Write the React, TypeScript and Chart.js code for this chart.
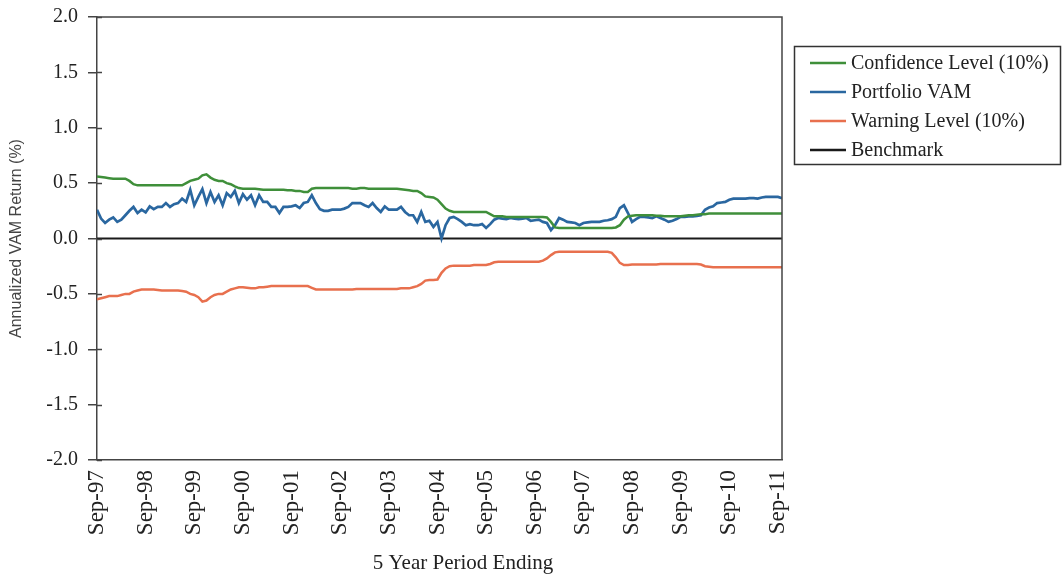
import React, { useEffect, useRef } from "react";
import { Chart, registerables } from "chart.js";

Chart.register(...registerables);

// Tick labels on the x axis (one every 12 months, starting at month 0 = Sep-97)
const tickLabels = [
  "Sep-97", "Sep-98", "Sep-99", "Sep-00", "Sep-01", "Sep-02", "Sep-03", "Sep-04",
  "Sep-05", "Sep-06", "Sep-07", "Sep-08", "Sep-09", "Sep-10", "Sep-11",
];
const monthsPerTick = 12;
const lastMonth = 169;
const xAxisTitle = "5 Year Period Ending";
const yAxisTitle = "Annualized VAM Return (%)";

// Monthly values, month 0 = Sep-97
const confidenceLevel = [
  0.56, 0.555, 0.55, 0.545, 0.54, 0.54, 0.54, 0.54, 0.52, 0.49,
  0.48, 0.48, 0.48, 0.48, 0.48, 0.48, 0.48, 0.48, 0.48, 0.48,
  0.48, 0.48, 0.50, 0.52, 0.53, 0.54, 0.57, 0.58, 0.55, 0.53,
  0.52, 0.52, 0.50, 0.49, 0.47, 0.455, 0.45, 0.45, 0.45, 0.45,
  0.445, 0.44, 0.44, 0.44, 0.44, 0.44, 0.44, 0.435, 0.435, 0.43,
  0.43, 0.42, 0.42, 0.45, 0.455, 0.455, 0.455, 0.455, 0.455, 0.455,
  0.455, 0.455, 0.455, 0.45, 0.45, 0.455, 0.455, 0.45, 0.45, 0.45,
  0.45, 0.45, 0.45, 0.45, 0.45, 0.445, 0.44, 0.435, 0.43, 0.43,
  0.41, 0.38, 0.375, 0.37, 0.35, 0.31, 0.27, 0.25, 0.24, 0.24,
  0.24, 0.24, 0.24, 0.24, 0.24, 0.24, 0.24, 0.22, 0.20, 0.20,
  0.20, 0.195, 0.195, 0.195, 0.195, 0.195, 0.195, 0.195, 0.195, 0.195,
  0.195, 0.19, 0.15, 0.10, 0.095, 0.095, 0.095, 0.095, 0.095, 0.095,
  0.095, 0.095, 0.095, 0.095, 0.095, 0.095, 0.095, 0.095, 0.10, 0.12,
  0.17, 0.20, 0.205, 0.21, 0.21, 0.21, 0.21, 0.21, 0.205, 0.205,
  0.20, 0.20, 0.20, 0.20, 0.20, 0.205, 0.21, 0.21, 0.215, 0.22,
  0.22, 0.225, 0.225, 0.225, 0.225, 0.225, 0.225, 0.225, 0.225, 0.225,
  0.225, 0.225, 0.225, 0.225, 0.225, 0.225, 0.225, 0.225, 0.225, 0.225,
];

const portfolioVAM = [
  0.26, 0.18, 0.14, 0.17, 0.19, 0.15, 0.17, 0.21, 0.25, 0.285,
  0.23, 0.26, 0.235, 0.29, 0.265, 0.285, 0.285, 0.32, 0.285, 0.31,
  0.32, 0.36, 0.33, 0.44, 0.30, 0.375, 0.445, 0.32, 0.42, 0.33,
  0.39, 0.30, 0.41, 0.375, 0.43, 0.32, 0.40, 0.35, 0.39, 0.30,
  0.39, 0.33, 0.33, 0.285, 0.285, 0.23, 0.285, 0.285, 0.29, 0.30,
  0.275, 0.32, 0.33, 0.39, 0.32, 0.265, 0.25, 0.25, 0.26, 0.26,
  0.26, 0.27, 0.285, 0.32, 0.32, 0.32, 0.30, 0.285, 0.32, 0.275,
  0.24, 0.29, 0.26, 0.26, 0.26, 0.285, 0.24, 0.21, 0.21, 0.15,
  0.24, 0.15, 0.16, 0.105, 0.15, 0.0, 0.12, 0.185, 0.195, 0.175,
  0.15, 0.12, 0.13, 0.12, 0.12, 0.13, 0.095, 0.13, 0.17, 0.185,
  0.18, 0.175, 0.185, 0.18, 0.175, 0.18, 0.185, 0.16, 0.165, 0.17,
  0.15, 0.14, 0.075, 0.12, 0.185, 0.17, 0.15, 0.145, 0.14, 0.12,
  0.14, 0.145, 0.15, 0.15, 0.15, 0.16, 0.165, 0.175, 0.195, 0.275,
  0.30, 0.23, 0.15, 0.175, 0.195, 0.195, 0.19, 0.185, 0.20, 0.185,
  0.17, 0.15, 0.16, 0.175, 0.195, 0.195, 0.20, 0.20, 0.205, 0.21,
  0.26, 0.28, 0.29, 0.32, 0.325, 0.33, 0.35, 0.36, 0.36, 0.36,
  0.36, 0.365, 0.365, 0.36, 0.37, 0.375, 0.375, 0.375, 0.375, 0.365,
];

const warningLevel = [
  -0.55, -0.54, -0.53, -0.52, -0.52, -0.52, -0.51, -0.50, -0.50, -0.48,
  -0.47, -0.46, -0.46, -0.46, -0.46, -0.465, -0.47, -0.47, -0.47, -0.47,
  -0.47, -0.475, -0.48, -0.50, -0.51, -0.53, -0.57, -0.56, -0.53, -0.51,
  -0.50, -0.50, -0.48, -0.46, -0.45, -0.44, -0.44, -0.445, -0.45, -0.45,
  -0.44, -0.44, -0.435, -0.43, -0.43, -0.43, -0.43, -0.43, -0.43, -0.43,
  -0.43, -0.43, -0.43, -0.445, -0.46, -0.46, -0.46, -0.46, -0.46, -0.46,
  -0.46, -0.46, -0.46, -0.46, -0.455, -0.455, -0.455, -0.455, -0.455, -0.455,
  -0.455, -0.455, -0.455, -0.455, -0.455, -0.45, -0.45, -0.45, -0.44, -0.43,
  -0.41, -0.38, -0.375, -0.375, -0.37, -0.31, -0.27, -0.25, -0.245, -0.245,
  -0.245, -0.245, -0.245, -0.24, -0.24, -0.24, -0.24, -0.23, -0.215, -0.21,
  -0.21, -0.21, -0.21, -0.21, -0.21, -0.21, -0.21, -0.21, -0.21, -0.21,
  -0.20, -0.18, -0.15, -0.125, -0.12, -0.12, -0.12, -0.12, -0.12, -0.12,
  -0.12, -0.12, -0.12, -0.12, -0.12, -0.12, -0.12, -0.13, -0.17, -0.22,
  -0.24, -0.24, -0.235, -0.235, -0.235, -0.235, -0.235, -0.235, -0.235, -0.23,
  -0.23, -0.23, -0.23, -0.23, -0.23, -0.23, -0.23, -0.23, -0.23, -0.235,
  -0.25, -0.255, -0.26, -0.26, -0.26, -0.26, -0.26, -0.26, -0.26, -0.26,
  -0.26, -0.26, -0.26, -0.26, -0.26, -0.26, -0.26, -0.26, -0.26, -0.26,
];

const benchmarkMonths = [0, lastMonth];
const benchmarkValues = [0, 0];

const seriesColors = {
  confidence: "#3f8f3a",
  portfolio: "#2a67a0",
  warning: "#e8704e",
  benchmark: "#1a1a1a",
};

const AXIS_COLOR = "#444";
const SERIF = '"Liberation Serif", "Times New Roman", serif';

const frameAndLegendPlugin = {
  id: "frameAndLegend",
  afterDraw(chart: any) {
    const { ctx, chartArea } = chart;
    ctx.save();
    // top and right border of the plot area
    ctx.strokeStyle = AXIS_COLOR;
    ctx.lineWidth = 1.5;
    ctx.beginPath();
    ctx.moveTo(chartArea.left, chartArea.top);
    ctx.lineTo(chartArea.right, chartArea.top);
    ctx.lineTo(chartArea.right, chartArea.bottom);
    ctx.stroke();
    // inner half of the y tick marks (cross ticks)
    const yScale = chart.scales.y;
    yScale.ticks.forEach((t: any) => {
      const py = Math.round(yScale.getPixelForValue(t.value)) + 0.5;
      ctx.beginPath();
      ctx.moveTo(chartArea.left, py);
      ctx.lineTo(chartArea.left + 5, py);
      ctx.stroke();
    });
    // x axis title (sits a little right of the plot centre in the original)
    ctx.fillStyle = "#222";
    ctx.font = `21px ${SERIF}`;
    ctx.textAlign = "center";
    ctx.textBaseline = "middle";
    ctx.fillText(xAxisTitle, 463, 563);
    // legend box
    ctx.strokeStyle = "#333";
    ctx.lineWidth = 1.5;
    ctx.strokeRect(794.5, 46.5, 266, 118);
    ctx.font = `20px ${SERIF}`;
    ctx.textBaseline = "middle";
    ctx.textAlign = "left";
    chart.data.datasets.forEach((ds: any, i: number) => {
      const y = 63 + i * 29;
      ctx.strokeStyle = ds.borderColor;
      ctx.lineWidth = 2.5;
      ctx.beginPath();
      ctx.moveTo(810, y);
      ctx.lineTo(846, y);
      ctx.stroke();
      ctx.fillStyle = "#222";
      ctx.fillText(ds.label, 851, y + 1);
    });
    ctx.restore();
  },
};

export default function App() {
  const canvasRef = useRef<HTMLCanvasElement | null>(null);

  useEffect(() => {
    if (!canvasRef.current) return;
    const toPoints = (values: number[]) => values.map((y, i) => ({ x: i, y }));
    const chart = new Chart(canvasRef.current, {
      type: "line",
      data: {
        datasets: [
          {
            label: "Confidence Level (10%)",
            data: toPoints(confidenceLevel),
            borderColor: seriesColors.confidence,
            borderWidth: 2.5,
            pointRadius: 0,
          },
          {
            label: "Portfolio VAM",
            data: toPoints(portfolioVAM),
            borderColor: seriesColors.portfolio,
            borderWidth: 2.7,
            pointRadius: 0,
          },
          {
            label: "Warning Level (10%)",
            data: toPoints(warningLevel),
            borderColor: seriesColors.warning,
            borderWidth: 2.5,
            pointRadius: 0,
          },
          {
            label: "Benchmark",
            data: benchmarkMonths.map((x, i) => ({ x, y: benchmarkValues[i] })),
            borderColor: seriesColors.benchmark,
            borderWidth: 2,
            pointRadius: 0,
          },
        ],
      },
      options: {
        responsive: false,
        animation: false,
        layout: { padding: { left: 0, right: 281, top: 17, bottom: 0 } },
        plugins: {
          legend: { display: false },
          tooltip: { enabled: false },
        },
        scales: {
          x: {
            type: "linear",
            min: 0,
            max: lastMonth,
            afterBuildTicks: (scale: any) => {
              scale.ticks = tickLabels.map((_, i) => ({ value: i * monthsPerTick }));
            },
            afterFit: (scale: any) => {
              scale.height = 114;
              scale.paddingLeft = 0;
              scale.paddingRight = 0;
            },
            grid: { display: false },
            border: { display: true, color: AXIS_COLOR, width: 1.5 },
            ticks: {
              autoSkip: false,
              minRotation: 90,
              maxRotation: 90,
              padding: 2,
              color: "#222",
              font: { family: SERIF, size: 23 },
              callback: (value: any) => tickLabels[Math.round(Number(value) / monthsPerTick)] ?? "",
            },
            title: { display: false },
          },
          y: {
            type: "linear",
            min: -2,
            max: 2,
            afterFit: (scale: any) => {
              scale.width = 97;
              scale.paddingTop = 0;
              scale.paddingBottom = 0;
            },
            grid: {
              drawOnChartArea: false,
              drawTicks: true,
              tickLength: 9,
              color: AXIS_COLOR,
              lineWidth: 1.5,
            },
            border: { display: true, color: AXIS_COLOR, width: 1.5 },
            ticks: {
              stepSize: 0.5,
              padding: 10,
              color: "#222",
              font: { family: SERIF, size: 20 },
              callback: (value: any) => Number(value).toFixed(1),
            },
            title: {
              display: true,
              text: yAxisTitle,
              color: "#444",
              font: { family: '"Liberation Sans", Arial, sans-serif', size: 16 },
              padding: { top: 7, bottom: 0 },
            },
          },
        },
      },
      plugins: [frameAndLegendPlugin],
    });
    return () => chart.destroy();
  }, []);

  return (
    <div style={{ position: "absolute", left: 0, top: 0, width: 1063, height: 574, background: "#fff" }}>
      <canvas ref={canvasRef} width={1063} height={574} style={{ display: "block" }} />
    </div>
  );
}
